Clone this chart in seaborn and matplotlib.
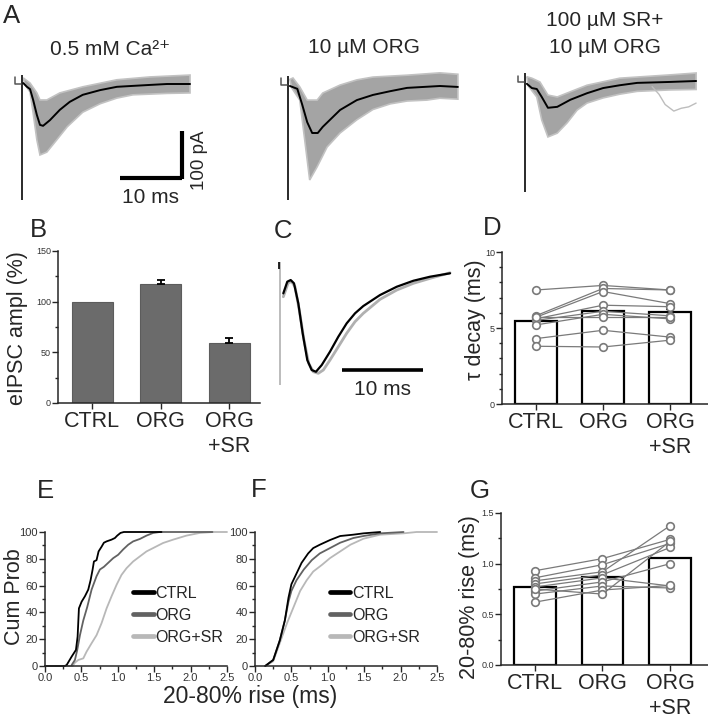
import matplotlib
matplotlib.use("Agg")
import matplotlib.pyplot as plt
from matplotlib.lines import Line2D
from matplotlib.ticker import MultipleLocator, FormatStrFormatter
import seaborn as sns

# ---------------- data ----------------
conds = ["CTRL", "ORG", "ORG\n+SR"]

# A: eIPSC sweeps (ms, pA) -- average trace plus envelope of the single sweeps
a1_mean_t = [0.2, 0.8, 1.3, 1.8, 2.4, 2.9, 3.4, 4.5, 6.1, 7.7, 9.8, 12.6, 15.3, 17.9, 20.6, 23.4, 27.1]
a1_mean_i = [2, -6, -11, -34, -66, -87, -89, -77, -55, -38, -23, -13, -6, -4, -2, 0, 0]
a1_lo_t = [0.5, 1.3, 1.8, 2.4, 2.9, 4.0, 5.6, 7.3, 9.8, 12.6, 15.3, 17.9, 23.4, 27.1]
a1_lo_i = [-2, -17, -62, -119, -151, -145, -119, -91, -60, -42, -30, -23, -20, -19]
a1_hi_t = [0.2, 1.3, 2.4, 2.9, 4.0, 6.1, 9.8, 15.3, 20.6, 27.1]
a1_hi_i = [13, 2, -19, -34, -34, -19, -6, 9, 15, 19]

a2_mean_t = [0.3, 1.5, 2.3, 3.1, 3.9, 4.8, 5.6, 8.4, 11.1, 13.7, 16.5, 19.2, 24.5, 27.4]
a2_mean_i = [0, -6, -40, -77, -100, -100, -87, -51, -30, -19, -11, -4, 0, -2]
a2_lo_t = [0.6, 1.9, 2.7, 3.5, 4.7, 6.3, 8.4, 11.1, 13.7, 16.5, 19.2, 22.4, 24.5, 27.4]
a2_lo_i = [-4, -30, -115, -200, -172, -130, -100, -72, -50, -38, -32, -30, -26, -28]
a2_hi_t = [0.3, 0.8, 1.9, 3.1, 4.7, 5.6, 8.4, 11.1, 13.7, 19.2, 24.5, 27.4]
a2_hi_i = [14, 17, -2, -30, -30, -15, 2, 13, 19, 23, 28, 25]

a3_mean_t = [0.3, 1.1, 1.9, 2.7, 3.7, 5.2, 7.3, 10.0, 12.6, 15.3, 18.1, 23.4, 27.6]
a3_mean_i = [-6, -15, -17, -34, -57, -55, -40, -26, -15, -9, -4, -2, 0]
a3_lo_t = [0.5, 1.9, 2.7, 3.7, 5.2, 6.8, 8.4, 10.0, 12.6, 15.3, 18.1, 23.4, 27.6]
a3_lo_i = [-10, -34, -83, -119, -111, -89, -62, -47, -36, -28, -22, -19, -18]
a3_hi_t = [0.3, 1.1, 2.4, 3.7, 5.2, 7.3, 10.0, 15.3, 23.4, 27.6]
a3_hi_i = [9, 6, -2, -30, -34, -23, -9, 6, 13, 17]
a3_odd_t = [20.5, 21.6, 22.6, 24.0, 25.2, 26.4, 27.6]
a3_odd_i = [-12, -28, -50, -64, -58, -55, -47]

# C: scaled average traces (ms, normalised current)
c_t = [0.41, 0.90, 1.32, 1.73, 2.26, 2.80, 3.37, 3.91, 4.44, 5.15, 6.17, 7.20, 8.23, 9.26,
       10.28, 12.35, 14.41, 16.46, 18.52, 20.99]
c_ctrl = [-0.145, -0.018, 0.0, -0.036, -0.253, -0.579, -0.870, -0.978, -0.997, -0.924, -0.779,
          -0.616, -0.471, -0.362, -0.283, -0.163, -0.073, -0.008, 0.036, 0.073]
c_t2 = [0.41, 1.02, 1.44, 1.85, 2.38, 2.96, 3.54, 4.11, 4.73, 5.35, 6.17, 7.20, 8.23, 9.26,
        10.28, 12.35, 14.41, 16.46, 18.52, 20.99]
c_org = [-0.182, -0.029, -0.018, -0.073, -0.326, -0.652, -0.905, -0.997, -1.014, -0.978, -0.870,
         -0.725, -0.579, -0.453, -0.362, -0.210, -0.109, -0.036, 0.018, 0.079]

# B: eIPSC amplitude (% of control)
ampl_mean = [100, 117, 59]
ampl_sem = [0, 4, 5]

# D: tau decay (ms)
tau_bar = [5.45, 6.15, 6.05]
tau_sem = [0.25, 0.35, 0.2]
tau_ctrl = [7.5, 5.8, 5.7, 5.6, 5.5, 5.2, 5.7, 4.3, 3.8]
tau_org = [7.8, 7.6, 7.4, 6.5, 6.1, 5.9, 5.7, 4.85, 3.75]
tau_sr = [7.5, 7.5, 6.6, 6.4, 5.8, 5.6, 5.7, 4.4, 4.2]

# G: 20-80% rise (ms)
rise_bar = [0.77, 0.865, 1.055]
rise_ctrl = [0.93, 0.86, 0.83, 0.80, 0.77, 0.73, 0.70, 0.62, 0.75]
rise_org = [1.05, 0.99, 0.92, 0.89, 0.86, 0.82, 0.78, 0.74, 0.70]
rise_sr = [1.24, 1.20, 1.375, 1.16, 0.78, 1.00, 0.76, 0.785, 1.22]

# E / F: cumulative probability (%) of 20-80% rise time (ms)
e_ctrl_x = [0.0, 0.27, 0.297, 0.366, 0.425, 0.448, 0.466, 0.503, 0.548, 0.594, 0.626, 0.654, 0.672,
            0.708, 0.736, 0.777, 0.809, 0.846, 0.914, 0.960, 0.992, 1.037, 1.083, 1.6]
e_ctrl_y = [0, 0, 0.7, 7, 12, 22, 43, 48, 52, 57, 64, 72, 78, 79, 85.5, 89, 92, 93, 94.3, 95.5,
            97.3, 99.3, 100, 100]
e_org_x = [0.366, 0.411, 0.443, 0.480, 0.526, 0.580, 0.640, 0.708, 0.754, 0.809, 0.868, 0.937,
           1.005, 1.074, 1.143, 1.211, 1.303, 1.394, 1.485, 1.577, 2.3]
e_org_y = [0.7, 4.5, 12, 23, 34, 44, 57, 67, 72, 74, 77, 80.5, 83, 87, 90.5, 93, 94.8, 97.3, 99.3,
           100, 100]
e_sr_x = [0.15, 0.38, 0.411, 0.457, 0.526, 0.571, 0.640, 0.708, 0.777, 0.846, 0.914, 0.983, 1.051,
          1.120, 1.211, 1.303, 1.394, 1.485, 1.622, 1.760, 1.942, 2.125, 2.308, 2.5]
e_sr_y = [0, 0, 2.5, 4.5, 5.7, 10.7, 17, 23, 32, 43, 52, 60.6, 68, 73, 78, 81.8, 85.5, 88, 91.8,
          94.3, 97.3, 99.3, 100, 100]

f_ctrl_x = [0.14, 0.25, 0.34, 0.41, 0.46, 0.50, 0.57, 0.64, 0.73, 0.80, 0.89, 1.03, 1.17, 1.35,
            1.49, 1.72]
f_ctrl_y = [0, 4.5, 19, 34, 51, 61, 69, 77, 84, 88, 90.5, 94, 97, 98, 99, 100]
f_org_x = [0.14, 0.25, 0.34, 0.41, 0.46, 0.50, 0.57, 0.67, 0.78, 0.89, 1.03, 1.17, 1.35, 1.49,
           1.72, 2.04]
f_org_y = [0, 4.5, 19, 34, 48, 56, 64, 72, 79, 84, 88, 92, 95.5, 97, 99, 100]
f_sr_x = [0.14, 0.25, 0.34, 0.44, 0.53, 0.62, 0.71, 0.80, 0.92, 1.03, 1.17, 1.31, 1.49, 1.72,
          2.04, 2.22, 2.5]
f_sr_y = [0, 3.5, 17, 32, 44, 56, 64, 70.5, 75.5, 80.5, 85.5, 90.5, 95, 98, 99, 100, 100]

cdf_labels = ["CTRL", "ORG", "ORG+SR"]
cdf_colors = ["black", "#626262", "#b8b8b8"]

# ---------------- figure ----------------
sns.set_style("ticks")
plt.rcParams["font.family"] = ["Liberation Sans", "DejaVu Sans"]
plt.rcParams["axes.linewidth"] = 1.1

W, H = 708, 720
fig = plt.figure(figsize=(W / 100, H / 100), dpi=100)


def px_axes(left, top, right, bottom):
    return fig.add_axes([left / W, 1 - bottom / H, (right - left) / W, (bottom - top) / H])


def px_text(x, y, s, **kw):
    fig.text(x / W, 1 - y / H, s, **kw)


MS_PX, PA_PX = 6.2, 0.47  # scale of the A traces


def trace_axes(x0, yb, left, right, top=64, bottom=214):
    ax = px_axes(left, top, right, bottom)
    ax.set_xlim((left - x0) / MS_PX, (right - x0) / MS_PX)
    ax.set_ylim(-(bottom - yb) / PA_PX, -(top - yb) / PA_PX)
    ax.axis("off")
    return ax


def draw_sweeps(ax, mt, mi, lt, li, ht, hi, art_top, art_bot):
    ax.vlines(0, art_bot, art_top, color="#2a2a2a", lw=1.4)
    ax.plot([-1.1, -1.1, -0.1], [art_top - 6, art_top - 20, art_top - 20], color="#555555", lw=1.1)
    ax.fill(list(lt) + list(ht[::-1]), list(li) + list(hi[::-1]),
            facecolor="#a4a4a4", edgecolor="#c2c2c2", lw=1.2)
    sns.lineplot(x=mt, y=mi, ax=ax, color="black", lw=1.4, estimator=None, sort=False)


axA1 = trace_axes(22, 84, 10, 200)
draw_sweeps(axA1, a1_mean_t, a1_mean_i, a1_lo_t, a1_lo_i, a1_hi_t, a1_hi_i, 20, -247)
# scale bars
axA1.plot([15.8, 25.8], [-200, -200], color="black", lw=3, solid_capstyle="butt")
axA1.plot([25.8, 25.8], [-203, -100], color="black", lw=3, solid_capstyle="butt")

axA2 = trace_axes(288, 86, 276, 466)
draw_sweeps(axA2, a2_mean_t, a2_mean_i, a2_lo_t, a2_lo_i, a2_hi_t, a2_hi_i, 22, -243)

axA3 = trace_axes(525, 81, 513, 703)
draw_sweeps(axA3, a3_mean_t, a3_mean_i, a3_lo_t, a3_lo_i, a3_hi_t, a3_hi_i, 17, -236)
sns.lineplot(x=a3_odd_t, y=a3_odd_i, ax=axA3, color="#bdbdbd", lw=1.0, estimator=None, sort=False)

px_text(150, 203, "10 ms", fontsize=15, ha="center", va="baseline")
px_text(200, 160, "100 pA", fontsize=13.5, ha="center", va="center", rotation=90)
px_text(110, 55, "0.5 mM Ca²⁺", fontsize=15, ha="center", va="baseline")
px_text(364, 53, "10 µM ORG", fontsize=15, ha="center", va="baseline")
px_text(605, 26, "100 µM SR+", fontsize=15, ha="center", va="baseline")
px_text(605, 53, "10 µM ORG", fontsize=15, ha="center", va="baseline")

# C: overlay of scaled averages
axC = px_axes(268, 255, 460, 400)
axC.set_xlim(-1.48, 22.22)
axC.set_ylim(-1.304, 0.272)
axC.axis("off")
axC.vlines(0, -1.14, 0.2, color="#b0b0b0", lw=1.2)
axC.vlines(-0.1, 0.12, 0.2, color="black", lw=1.2)
sns.lineplot(x=c_t2, y=c_org, ax=axC, color="#b0b0b0", lw=2.0, estimator=None, sort=False)
sns.lineplot(x=c_t, y=c_ctrl, ax=axC, color="black", lw=1.6, estimator=None, sort=False)
axC.plot([7.65, 17.65], [-0.978, -0.978], color="black", lw=2.6, solid_capstyle="butt")
px_text(382, 395, "10 ms", fontsize=15, ha="center", va="baseline")


def style_bar_axes(ax, ymax, major, minor, xmax):
    ax.set_xlim(-0.5, xmax)
    ax.set_ylim(0, ymax)
    ax.yaxis.set_major_locator(MultipleLocator(major))
    ax.yaxis.set_minor_locator(MultipleLocator(minor))
    ax.tick_params(axis="y", which="major", length=4, width=1, labelsize=6.5,
                   labelcolor="#333333", pad=1)
    ax.tick_params(axis="y", which="minor", length=2.5, width=1)
    ax.tick_params(axis="x", length=4, width=1, labelsize=15.5, pad=2)
    ax.set_xlabel("")
    ax.set_ylabel("")
    sns.despine(ax=ax)


# B
axB = px_axes(58, 251, 260, 403)
sns.barplot(x=conds, y=ampl_mean, ax=axB, color="#6b6b6b", saturation=1, width=0.6,
            errorbar=None, edgecolor="#5c5c5c", linewidth=0.8)
axB.errorbar([1, 2], ampl_mean[1:], yerr=[[0, 0], ampl_sem[1:]], fmt="none", ecolor="black",
             elinewidth=1.3, capsize=3, capthick=1.3)
style_bar_axes(axB, 150, 50, 25, 2.45)


def paired_axes(ax, bars, sems, c, o, s, ymax, major, minor):
    sns.barplot(x=conds, y=bars, ax=ax, color="white", saturation=1, width=0.62,
                errorbar=None, edgecolor="black", linewidth=1.6)
    if sems is not None:
        ax.errorbar([0, 1, 2], bars, yerr=[[0, 0, 0], sems], fmt="none", ecolor="black",
                    elinewidth=1.5, capsize=3, capthick=1.5, zorder=3)
    for a, b, d in zip(c, o, s):
        ax.plot([0, 1, 2], [a, b, d], color="#7a7a7a", lw=0.9, zorder=4)
    xs = [0] * len(c) + [1] * len(o) + [2] * len(s)
    sns.scatterplot(x=xs, y=list(c) + list(o) + list(s), ax=ax, s=30, color="white",
                    edgecolor="#7a7a7a", linewidth=1.2, zorder=5, legend=False)
    style_bar_axes(ax, ymax, major, minor, 2.56)


axD = px_axes(502, 252, 708, 404)
paired_axes(axD, tau_bar, tau_sem, tau_ctrl, tau_org, tau_sr, 10, 5, 1)

axG = px_axes(501, 513, 708, 665)
paired_axes(axG, rise_bar, None, rise_ctrl, rise_org, rise_sr, 1.5, 0.5, 0.25)
axG.yaxis.set_major_formatter(FormatStrFormatter("%.1f"))


# E / F cumulative plots
def cdf_axes(ax, curves, leg_x):
    for (xs, ys), col in list(zip(curves, cdf_colors))[::-1]:
        sns.lineplot(x=xs, y=ys, ax=ax, color=col, lw=1.3, estimator=None, sort=False,
                     clip_on=False)
    ax.set_xlim(0, 2.5)
    ax.set_ylim(0, 100)
    ax.xaxis.set_major_locator(MultipleLocator(0.5))
    ax.xaxis.set_minor_locator(MultipleLocator(0.25))
    ax.yaxis.set_major_locator(MultipleLocator(20))
    ax.yaxis.set_minor_locator(MultipleLocator(10))
    ax.xaxis.set_major_formatter(FormatStrFormatter("%.1f"))
    ax.tick_params(which="major", length=4, width=1, labelsize=8, labelcolor="#333333", pad=1)
    ax.tick_params(which="minor", length=2.5, width=1)
    ax.set_xlabel("")
    ax.set_ylabel("")
    sns.despine(ax=ax)
    handles = [Line2D([], [], color=c, lw=3.4) for c in cdf_colors]
    ax.legend(handles, cdf_labels, loc="upper left", bbox_to_anchor=(leg_x, 0.60),
              frameon=False, fontsize=11.5, handlelength=1.3, handletextpad=0.1,
              labelspacing=0.45, borderpad=0, borderaxespad=0)


axE = px_axes(45, 532, 227, 666)
cdf_axes(axE, [(e_ctrl_x, e_ctrl_y), (e_org_x, e_org_y), (e_sr_x, e_sr_y)], 0.484)
axF = px_axes(255, 532, 437, 666)
cdf_axes(axF, [(f_ctrl_x, f_ctrl_y), (f_org_x, f_org_y), (f_sr_x, f_sr_y)], 0.41)

# axis titles
px_text(18, 328, "eIPSC ampl (%)", fontsize=15.5, rotation=90, ha="center", va="center")
px_text(476, 320, "τ decay (ms)", fontsize=15.5, rotation=90, ha="center", va="center")
px_text(15, 597, "Cum Prob", fontsize=15.5, rotation=90, ha="center", va="center")
px_text(469, 597, "20-80% rise (ms)", fontsize=15.5, rotation=90, ha="center", va="center")
px_text(250, 697, "20-80% rise (ms)", fontsize=16.5, ha="center", va="center")

# panel letters
for letter, x, y in [("A", 3, 23), ("B", 30, 237), ("C", 274, 238), ("D", 483, 235),
                     ("E", 37, 498), ("F", 251, 497), ("G", 470, 498)]:
    px_text(x, y, letter, fontsize=18.5, ha="left", va="baseline")

fig.savefig("out.png", dpi=100)
